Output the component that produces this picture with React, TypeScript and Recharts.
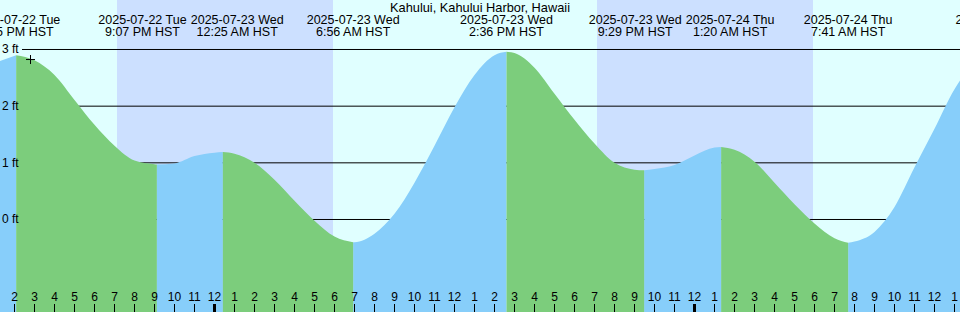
import React from 'react';
import { AreaChart, Area, XAxis, YAxis, CartesianGrid, ReferenceDot } from 'recharts';

const DAY = '#E0FFFF';
const NIGHT = '#CCE0FF';
const RISE = '#87CEFA';
const FALL = '#7CCD7C';
const FONT = "'Liberation Sans', Arial, Helvetica, sans-serif";
const LABEL_SIZE = 12.5;
const TITLE_SIZE = 12.8;

const TITLE = 'Kahului, Kahului Harbor, Hawaii';

// hours counted from 2025-07-22 00:00 HST
const sampleHours = [
  13, 14.083, 15, 16, 17, 18, 19, 20, 21, 21.117, 22, 23, 24, 24.417, 25, 26, 27, 28, 29, 30, 30.933,
  31, 32, 33, 34, 35, 36, 37, 38, 38.6, 39, 40, 41, 42, 43, 44, 45, 45.483, 46, 47, 48, 49, 49.333,
  50, 51, 52, 53, 54, 55, 55.683, 56, 57, 58, 59, 60, 61, 62, 63, 63.27,
];
const sampleFt = [
  2.76, 2.9, 2.81, 2.55, 2.11, 1.67, 1.3, 1.04, 0.975, 0.97, 0.99, 1.12, 1.18, 1.19, 1.16, 1.0, 0.7, 0.33, -0.02, -0.3, -0.4,
  -0.4, -0.25, 0.1, 0.65, 1.3, 1.98, 2.55, 2.9, 2.96, 2.94, 2.68, 2.22, 1.76, 1.34, 1.0, 0.88, 0.87, 0.89, 0.96, 1.13, 1.27, 1.28,
  1.23, 1.02, 0.65, 0.27, -0.07, -0.33, -0.41, -0.39, -0.22, 0.22, 0.92, 1.6, 2.3, 2.77, 2.98, 3.0,
];

const eventHours = [14.083, 21.117, 24.417, 30.933, 38.6, 45.483, 49.333, 55.683, 63.27];
const eventKinds = ['H', 'L', 'H', 'L', 'H', 'L', 'H', 'L', 'H'];
const eventDates = [
  '2025-07-22 Tue', '2025-07-22 Tue', '2025-07-23 Wed', '2025-07-23 Wed', '2025-07-23 Wed',
  '2025-07-23 Wed', '2025-07-24 Thu', '2025-07-24 Thu', '2025-07-24 Thu',
];
const eventTimes = [
  '2:05 PM HST', '9:07 PM HST', '12:25 AM HST', '6:56 AM HST', '2:36 PM HST',
  '9:29 PM HST', '1:20 AM HST', '7:41 AM HST', '3:16 PM HST',
];

// sunset, sunrise, sunset, sunrise
const sunHours = [19.11, 29.91, 43.14, 53.91];

const hourTicks = [
  14, 15, 16, 17, 18, 19, 20, 21, 22, 23, 24, 25, 26, 27, 28, 29, 30, 31, 32, 33, 34, 35, 36, 37,
  38, 39, 40, 41, 42, 43, 44, 45, 46, 47, 48, 49, 50, 51, 52, 53, 54, 55, 56, 57, 58, 59, 60, 61,
];
const hourTickLabels = [
  '2', '3', '4', '5', '6', '7', '8', '9', '10', '11', '12', '1', '2', '3', '4', '5', '6', '7', '8', '9', '10', '11', '12', '1',
  '2', '3', '4', '5', '6', '7', '8', '9', '10', '11', '12', '1', '2', '3', '4', '5', '6', '7', '8', '9', '10', '11', '12', '1',
];
const midnightHours = [24, 48];

const levelTicks = [0, 1, 2, 3];
const levelLabels = ['0 ft', '1 ft', '2 ft', '3 ft'];

const nowMark = { h: 14.8, ft: 2.823 };

const X_DOMAIN: [number, number] = [13.275, 61.275];
const Y_DOMAIN: [number, number] = [-1.6324, 3.8735];
const W = 960;
const H = 312;

// ---- build the table for the library ----
const isEvent = (h: number) => eventHours.findIndex((e) => Math.abs(e - h) < 1e-6);
const rows = sampleHours.map((h, i) => {
  const v = sampleFt[i];
  const ev = isEvent(h);
  if (ev >= 0) return { h, fall: v, rise: v };
  let last = -1;
  eventHours.forEach((e, k) => {
    if (e <= h) last = k;
  });
  const falling = last >= 0 && eventKinds[last] === 'H';
  return { h, fall: falling ? v : null, rise: falling ? null : v };
});

// ---- label placement (push overlapping labels apart) ----
const measure = (() => {
  let ctx: any = null;
  try {
    ctx = document.createElement('canvas').getContext('2d');
    if (ctx) ctx.font = `${LABEL_SIZE}px 'Liberation Sans'`;
  } catch (e) {
    ctx = null;
  }
  return (s: string) => (ctx ? ctx.measureText(s).width : s.length * 6.9);
})();
const PX_PER_HOUR = W / (X_DOMAIN[1] - X_DOMAIN[0]);
const LABEL_GAP = 4;
const labelWidths = eventDates.map((d, i) => Math.max(measure(d), measure(eventTimes[i])));
const labelHours = eventHours.slice();
for (let i = 1; i < labelHours.length; i++) {
  const need = (labelWidths[i - 1] + labelWidths[i]) / 2 + LABEL_GAP;
  const have = (labelHours[i] - labelHours[i - 1]) * PX_PER_HOUR;
  if (have < need) {
    const shift = (need - have) / 2 / PX_PER_HOUR;
    labelHours[i - 1] -= shift;
    labelHours[i] += shift;
  }
}

// ---- scale helpers (library scales, with fallback) ----
const scaleOf = (axis: any, v: number): number => {
  const s = axis && axis.scale;
  if (typeof s === 'function') return s(v);
  if (s && typeof s.map === 'function') return s.map(v);
  return NaN;
};
const xPx = (axis: any, offset: any, v: number) => {
  const r = scaleOf(axis, v);
  if (Number.isFinite(r)) return r;
  return offset.left + ((v - X_DOMAIN[0]) / (X_DOMAIN[1] - X_DOMAIN[0])) * offset.width;
};
const yPx = (axis: any, offset: any, v: number) => {
  const r = scaleOf(axis, v);
  if (Number.isFinite(r)) return r;
  return offset.top + offset.height - ((v - Y_DOMAIN[0]) / (Y_DOMAIN[1] - Y_DOMAIN[0])) * offset.height;
};

// ---- custom ticks ----
const HourTick = (props: any) => {
  const { x, y, payload } = props;
  const i = hourTicks.indexOf(payload.value);
  const thick = midnightHours.includes(payload.value);
  return (
    <g>
      <text x={x} y={y - 11} textAnchor="middle" fontFamily={FONT} fontSize={12} fill="#000">
        {hourTickLabels[i]}
      </text>
      <line x1={x} x2={x} y1={y - 8} y2={y} stroke="#000" strokeWidth={thick ? 3 : 1} />
    </g>
  );
};

const EventTick = (props: any) => {
  const { x, index, payload } = props;
  let i = labelHours.indexOf(payload && payload.value);
  if (i < 0) i = index;
  return (
    <text textAnchor="middle" fontFamily={FONT} fontSize={LABEL_SIZE} fill="#000">
      <tspan x={x} y={24}>{eventDates[i]}</tspan>
      <tspan x={x} y={36}>{eventTimes[i]}</tspan>
    </text>
  );
};

const LevelTick = (props: any) => {
  const { y, payload } = props;
  const i = levelTicks.indexOf(payload.value);
  return (
    <text x={2} y={y + 4} textAnchor="start" fontFamily={FONT} fontSize={12} fill="#000">
      {levelLabels[i]}
    </text>
  );
};

const PlusShape = (props: any) => {
  const { cx, cy } = props;
  return (
    <g>
      <line x1={cx - 4.5} x2={cx + 4.5} y1={cy} y2={cy} stroke="#000" strokeWidth={1} />
      <line x1={cx} x2={cx} y1={cy - 4.5} y2={cy + 4.5} stroke="#000" strokeWidth={1} />
    </g>
  );
};

export default function App() {
  return (
    <div style={{ position: 'absolute', left: 0, top: 0, width: W, height: H, background: DAY, overflow: 'hidden' }}>
      <AreaChart width={W} height={H} data={rows} margin={{ top: 0, right: 0, bottom: 0, left: 0 }}>
        <CartesianGrid
          horizontal={false}
          stroke="none"
          verticalFill={[DAY, NIGHT]}
          verticalCoordinatesGenerator={({ xAxis, offset }: any) => sunHours.map((h) => xPx(xAxis, offset, h))}
        />
        <CartesianGrid
          vertical={false}
          horizontal={(p: any) => (
            <line key={`hl-${p.index}`} x1={p.x1 + 22} x2={p.x2} y1={p.y1} y2={p.y2} stroke="#000" strokeWidth={1} />
          )}
          horizontalCoordinatesGenerator={({ yAxis, offset }: any) => levelTicks.map((v) => yPx(yAxis, offset, v))}
        />
        <XAxis
          dataKey="h"
          type="number"
          domain={X_DOMAIN}
          allowDataOverflow
          ticks={hourTicks}
          interval={0}
          height={1}
          mirror
          axisLine={false}
          tickLine={false}
          tickSize={0}
          tickMargin={0}
          tick={HourTick}
        />
        <XAxis
          xAxisId="top"
          dataKey="h"
          type="number"
          orientation="top"
          domain={X_DOMAIN}
          allowDataOverflow
          ticks={labelHours}
          interval={0}
          height={1}
          mirror
          axisLine={false}
          tickLine={false}
          tickSize={0}
          tickMargin={0}
          tick={EventTick}
        />
        <YAxis
          type="number"
          domain={Y_DOMAIN}
          allowDataOverflow
          ticks={levelTicks}
          interval={0}
          width={1}
          mirror
          axisLine={false}
          tickLine={false}
          tickSize={0}
          tickMargin={0}
          tick={LevelTick}
        />
        <Area
          dataKey="rise"
          type="monotone"
          stroke="none"
          fill={RISE}
          fillOpacity={1}
          baseValue="dataMin"
          connectNulls={false}
          dot={false}
          activeDot={false}
          isAnimationActive={false}
        />
        <Area
          dataKey="fall"
          type="monotone"
          stroke="none"
          fill={FALL}
          fillOpacity={1}
          baseValue="dataMin"
          connectNulls={false}
          dot={false}
          activeDot={false}
          isAnimationActive={false}
        />
        <ReferenceDot x={nowMark.h} y={nowMark.ft} r={4} shape={PlusShape} />
      </AreaChart>
      <svg
        width={W}
        height={16}
        style={{ position: 'absolute', left: 0, top: 0, pointerEvents: 'none' }}
      >
        <text x={W / 2} y={12} textAnchor="middle" fontFamily={FONT} fontSize={TITLE_SIZE} fill="#000">
          {TITLE}
        </text>
      </svg>
    </div>
  );
}
